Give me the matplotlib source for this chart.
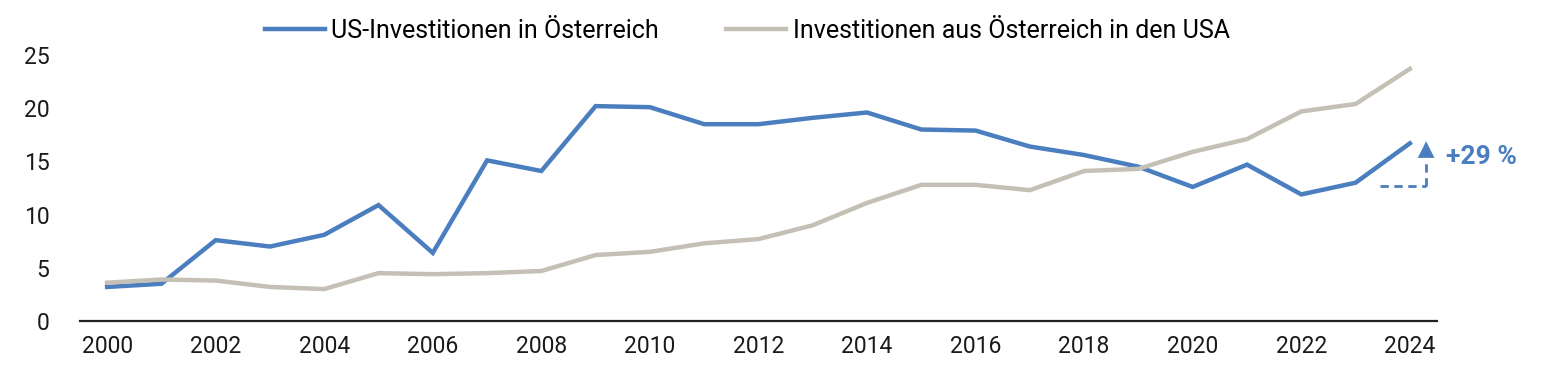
import matplotlib
matplotlib.use("Agg")
import matplotlib.pyplot as plt

# Daten (Mrd. EUR)
jahre = list(range(2000, 2025))
us_in_at = [3.2, 3.5, 7.6, 7.0, 8.1, 10.9, 6.4, 15.1, 14.1, 20.2, 20.1, 18.5, 18.5,
            19.1, 19.6, 18.0, 17.9, 16.4, 15.6, 14.5, 12.6, 14.7, 11.9, 13.0, 16.7]
at_in_us = [3.6, 3.9, 3.8, 3.2, 3.0, 4.5, 4.4, 4.5, 4.7, 6.2, 6.5, 7.3, 7.7,
            9.0, 11.1, 12.8, 12.8, 12.3, 14.1, 14.3, 15.9, 17.1, 19.7, 20.4, 23.7]
labels = ["US-Investitionen in Österreich", "Investitionen aus Österreich in den USA"]
xticks = list(range(2000, 2025, 2))
yticks = [0, 5, 10, 15, 20, 25]

blau = "#4a7ebf"
grau = "#c5c0b6"

plt.rcParams["font.family"] = ["Roboto", "DejaVu Sans"]

fig = plt.figure(figsize=(15.41, 3.81), dpi=100)
ax = fig.add_axes([0.0519, 0.1575, 0.8806, 0.698])

ax.plot(jahre, us_in_at, color=blau, lw=3.2, label=labels[0], clip_on=False,
        solid_joinstyle="miter")
ax.plot(jahre, at_in_us, color=grau, lw=3.2, label=labels[1], clip_on=False,
        solid_joinstyle="miter")

# Anmerkung +29 %
ax.plot([2023.45, 2024.3], [12.7, 12.7], color=blau, lw=2, ls=(0, (3, 2)))
ax.plot([2024.3, 2024.3], [12.7, 15.0], color=blau, lw=2, ls=(0, (3, 2)))
ax.annotate("", xy=(2024.3, 16.9), xytext=(2024.3, 15.0),
            arrowprops=dict(arrowstyle="-|>,head_length=1.2,head_width=0.6",
                            color=blau, lw=0, shrinkA=0, shrinkB=0),
            annotation_clip=False)
ax.text(2024.67, 15.4, "+29 %", color=blau, fontsize=19, fontweight="bold",
        va="center", ha="left", clip_on=False)

ax.set_xlim(1999.5, 2024.5)
ax.set_ylim(0, 25)
ax.set_xticks(xticks)
ax.set_yticks(yticks)
ax.tick_params(length=0, labelsize=16.5, colors="#1a1a1a", pad=10)
ax.tick_params(axis="y", pad=22)
for s in ["top", "right", "left"]:
    ax.spines[s].set_visible(False)
ax.spines["bottom"].set_color("#222222")
ax.spines["bottom"].set_linewidth(1.6)

fig.legend(loc="center", bbox_to_anchor=(0.485, 0.919), ncol=2, frameon=False,
           fontsize=18, handlelength=2.4, handletextpad=0.25, columnspacing=2.7)

fig.savefig("out.png", dpi=100)
